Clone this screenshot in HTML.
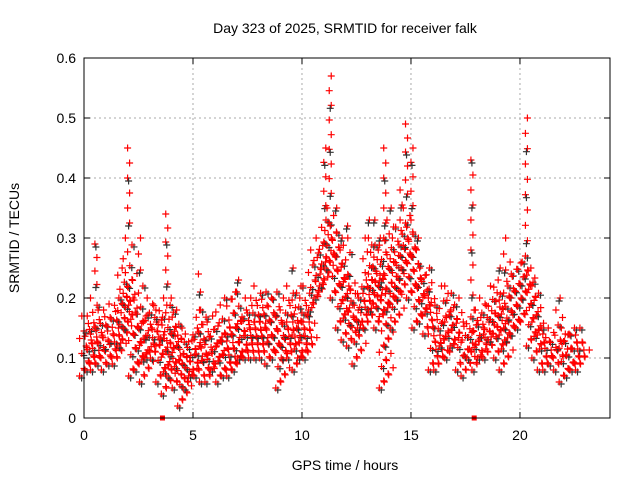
<!DOCTYPE html>
<html><head><meta charset="utf-8"><style>
body{margin:0;background:#fff}
svg{display:block;font-family:"Liberation Sans",sans-serif}
</style></head><body>
<svg id="c" width="640" height="480">
<rect width="640" height="480" fill="#fff"/>
<text x="345" y="33" font-size="14" text-anchor="middle">Day 323 of 2025, SRMTID for receiver falk</text>
<text x="345" y="470" font-size="14" text-anchor="middle">GPS time / hours</text>
<text x="0" y="0" font-size="14" text-anchor="middle" transform="translate(19,238) rotate(-90)">SRMTID / TECUs</text>
<g id="grid"></g><g id="marks"></g><g id="axes"></g>
</svg>
<script>
const times=[0,0.25,0.5,0.75,1,1.25,1.5,1.75,2,2.25,2.5,2.75,3,3.25,3.5,3.75,4,4.25,4.5,4.75,5,5.25,5.5,5.75,6,6.25,6.5,6.75,7,7.25,7.5,7.75,8,8.25,8.5,8.75,9,9.25,9.5,9.75,10,10.25,10.5,10.75,11,11.25,11.5,11.75,12,12.25,12.5,12.75,13,13.25,13.5,13.75,14,14.25,14.5,14.75,15,15.25,15.5,15.75,16,16.25,16.5,16.75,17,17.25,17.5,17.75,18,18.25,18.5,18.75,19,19.25,19.5,19.75,20,20.25,20.5,20.75,21,21.25,21.5,21.75,22,22.25,22.5,22.75];
const lowVals=[0.07,0.08,0.08,0.09,0.08,0.09,0.09,0.12,0.15,0.07,0.08,0.06,0.1,0.1,0.06,0.04,0.07,0.05,0.02,0.05,0.07,0.07,0.06,0.06,0.08,0.06,0.07,0.07,0.08,0.1,0.1,0.1,0.1,0.1,0.09,0.1,0.05,0.1,0.1,0.08,0.1,0.1,0.18,0.2,0.22,0.25,0.2,0.15,0.13,0.12,0.09,0.15,0.15,0.18,0.15,0.05,0.18,0.15,0.2,0.25,0.2,0.15,0.16,0.14,0.08,0.08,0.12,0.1,0.12,0.08,0.07,0.1,0.08,0.1,0.1,0.13,0.1,0.08,0.13,0.14,0.15,0.2,0.12,0.1,0.08,0.08,0.09,0.08,0.06,0.07,0.08,0.08];
const coreVals=[0.17,0.17,0.2,0.18,0.18,0.19,0.2,0.25,0.3,0.2,0.22,0.17,0.2,0.19,0.18,0.2,0.2,0.18,0.15,0.14,0.15,0.18,0.18,0.16,0.17,0.2,0.15,0.21,0.21,0.18,0.2,0.2,0.22,0.21,0.2,0.21,0.18,0.2,0.22,0.22,0.2,0.22,0.28,0.3,0.33,0.35,0.32,0.28,0.3,0.22,0.2,0.23,0.3,0.3,0.28,0.3,0.33,0.3,0.33,0.35,0.33,0.28,0.25,0.25,0.2,0.16,0.22,0.22,0.2,0.13,0.16,0.18,0.18,0.2,0.19,0.22,0.23,0.22,0.24,0.26,0.26,0.27,0.25,0.22,0.15,0.14,0.15,0.18,0.15,0.14,0.15,0.15];
const highVals=[0.17,0.17,0.29,0.18,0.18,0.19,0.2,0.25,0.45,0.2,0.3,0.17,0.2,0.19,0.18,0.34,0.2,0.18,0.15,0.14,0.15,0.24,0.18,0.16,0.17,0.2,0.15,0.21,0.23,0.18,0.2,0.2,0.22,0.21,0.2,0.21,0.18,0.2,0.25,0.22,0.2,0.22,0.28,0.3,0.45,0.57,0.35,0.3,0.32,0.22,0.2,0.23,0.33,0.33,0.3,0.45,0.35,0.3,0.38,0.49,0.45,0.3,0.25,0.25,0.2,0.16,0.22,0.22,0.2,0.13,0.16,0.43,0.18,0.2,0.19,0.22,0.25,0.3,0.24,0.27,0.27,0.5,0.25,0.22,0.15,0.14,0.15,0.2,0.15,0.14,0.15,0.15];
const zeroTimes=[3.6,17.9];
const xTicks=[0,5,10,15,20];
const yTicks=[0,0.1,0.2,0.3,0.4,0.5,0.6];
const yTickLabels=["0","0.1","0.2","0.3","0.4","0.5","0.6"];
const L=84,R=610,T=58,B=418;
const xs=t=>L+t*(R-L)/24.13;
const ys=v=>B-v*(B-T)/0.6;
const NS="http://www.w3.org/2000/svg";
function mk(tag,at,parent){const e=document.createElementNS(NS,tag);for(const k in at)e.setAttribute(k,at[k]);parent.appendChild(e);return e;}
const grid=document.getElementById('grid'),marks=document.getElementById('marks'),axes=document.getElementById('axes');
xTicks.forEach(t=>{if(t>0){const g=mk('line',{x1:xs(t),x2:xs(t),y1:T,y2:B,stroke:'#aaa','stroke-dasharray':'2,3'},grid);}
 const lb=mk('text',{x:xs(t),y:B+22,'font-size':14,'text-anchor':'middle'},axes);lb.textContent=t;
 
 mk('line',{x1:xs(t),x2:xs(t),y1:B,y2:B-6,stroke:'#000'},axes);mk('line',{x1:xs(t),x2:xs(t),y1:T,y2:T+6,stroke:'#000'},axes);});
yTicks.forEach((v,i)=>{if(v>0&&v<0.6){const g=mk('line',{x1:L,x2:R,y1:ys(v),y2:ys(v),stroke:'#aaa','stroke-dasharray':'2,3'},grid);}
 const lb=mk('text',{x:L-8,y:ys(v)+5,'font-size':14,'text-anchor':'end'},axes);lb.textContent=yTickLabels[i];
 
 mk('line',{x1:L,x2:L+6,y1:ys(v),y2:ys(v),stroke:'#000'},axes);mk('line',{x1:R,x2:R-6,y1:ys(v),y2:ys(v),stroke:'#000'},axes);});
const frame=mk('rect',{x:L,y:T,width:R-L,height:B-T,fill:'none',stroke:'#000'},axes);

function plus(x,y,col,cls){const p=mk('path',{d:`M${x-3.5} ${y}h7M${x} ${y-3.5}v7`,stroke:col,'stroke-width':1.2,fill:'none'},marks);
 }
times.forEach((t,i)=>{const lo=lowVals[i],core=coreVals[i],hi=highVals[i];const span=core-lo;const n=Math.max(3,Math.round(span/0.012));
 for(let k=0;k<=n;k++){const v=lo+span*k/n;const dx=((k*7)%5-2)*2.2;
  if(k%3===0)plus(xs(t)+dx+2,ys(v)+2,'#333','black-point');
  plus(xs(t)+dx,ys(v),'#f00','red-point');
  if(v<lo+span*0.6)plus(xs(t)+dx+5,ys(v+0.01),'#f00','red-point');}
 if(hi>core+0.01){const m=Math.round((hi-core)/0.025);
  for(let k=1;k<=m;k++){const v=core+(hi-core)*k/m;plus(xs(t)+(k%2)*2,ys(v),'#f00','red-spike-point');
   if(k%3===1)plus(xs(t)+1,ys(v)+3,'#333','black-spike-point');}}});
zeroTimes.forEach(t=>{const s=mk('rect',{x:xs(t)-2.5,y:B-2.5,width:5,height:5,fill:'#f00'},marks);
 });
</script>
</body></html>
